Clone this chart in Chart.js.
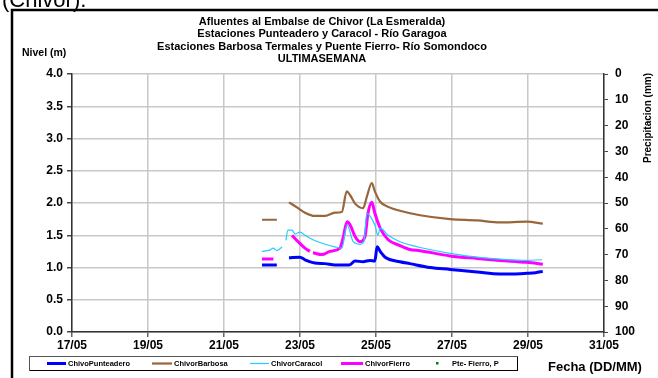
<!DOCTYPE html>
<html>
<head>
<meta charset="utf-8">
<script src="https://cdn.jsdelivr.net/npm/chart.js@4.4.1/dist/chart.umd.min.js"></script>
<style>
  body { margin: 0; background: #fff; }
  canvas { display: block; }
</style>
</head>
<body>
<canvas id="chivorChart" width="658" height="378"></canvas>
<script>
// Day of May (fractional) for every reading, null value = gap in the record
const puntDays = [22.0, 22.39, 22.5, 22.71, 23.0, 23.13, 23.39, 23.66, 23.92, 24.3, 24.45, 24.66, 24.84, 24.97, 25.03, 25.11, 25.24, 25.63, 25.89, 26.42, 26.95, 27.66, 28.26, 28.6, 28.97, 29.2, 29.39];
const puntVals = [1.04, 1.04, null, 1.15, 1.16, 1.12, 1.07, 1.06, 1.04, 1.04, 1.10, 1.09, 1.11, 1.10, 1.32, 1.25, 1.16, 1.09, 1.06, 1.00, 0.97, 0.93, 0.90, 0.90, 0.91, 0.92, 0.94];

const barbDays = [22.0, 22.39, 22.5, 22.71, 22.95, 23.13, 23.39, 23.66, 23.92, 24.1, 24.23, 24.32, 24.45, 24.66, 24.76, 24.89, 24.97, 25.11, 25.32, 25.63, 26.16, 26.95, 27.66, 28.26, 28.97, 29.39];
const barbVals = [1.74, 1.74, null, 2.01, 1.92, 1.85, 1.80, 1.80, 1.85, 1.86, 2.18, 2.12, 1.99, 1.92, 2.10, 2.31, 2.18, 2.02, 1.94, 1.88, 1.81, 1.75, 1.73, 1.70, 1.71, 1.68];

const caraDays = [22.0, 22.2, 22.3, 22.39, 22.45, 22.53, 22.58, 22.63, 22.68, 22.79, 22.87, 23.0, 23.13, 23.34, 23.66, 23.92, 24.1, 24.24, 24.4, 24.58, 24.68, 24.76, 24.84, 24.97, 25.05, 25.11, 25.32, 25.63, 25.89, 26.16, 26.95, 27.66, 28.26, 28.97, 29.37];
const caraVals = [1.25, 1.27, 1.30, 1.26, 1.28, 1.32, null, 1.42, 1.58, 1.58, 1.52, 1.55, 1.50, 1.43, 1.36, 1.32, 1.30, 1.66, 1.40, 1.36, 1.40, 1.84, 1.80, 1.66, 1.50, 1.61, 1.50, 1.40, 1.35, 1.31, 1.22, 1.16, 1.13, 1.11, 1.12];

const fierDays = [22.0, 22.3, 22.5, 22.79, 22.95, 23.13, 23.26, 23.29, 23.34, 23.58, 23.79, 24.05, 24.13, 24.24, 24.32, 24.45, 24.58, 24.71, 24.79, 24.89, 24.97, 25.11, 25.32, 25.63, 25.89, 26.16, 26.95, 27.66, 28.26, 28.97, 29.39];
const fierVals = [1.13, 1.13, null, 1.50, 1.40, 1.30, 1.25, null, 1.23, 1.20, 1.25, 1.30, 1.45, 1.71, 1.66, 1.48, 1.40, 1.48, 1.84, 2.01, 1.84, 1.61, 1.43, 1.34, 1.28, 1.26, 1.18, 1.14, 1.11, 1.08, 1.05];

// precipitation (Pte- Fierro, P): no readings visible this week
const precipDays = [];
const precipVals = [];

const titleLines = [
    'Afluentes al Embalse de Chivor (La Esmeralda)',
    'Estaciones Punteadero y Caracol - Río Garagoa',
    'Estaciones Barbosa Termales y Puente Fierro- Río Somondoco',
    'ULTIMASEMANA'
];

const pairs = (days, vals) => days.map((d, i) => ({ x: d, y: vals[i] }));

const FONT = '"Liberation Sans", Arial, sans-serif';

const makeLine = (label, days, vals, color, width) => ({
    label: label,
    data: pairs(days, vals),
    borderColor: color,
    backgroundColor: color,
    borderWidth: width,
    pointRadius: 0,
    tension: 0.25,
    cubicInterpolationMode: 'monotone',
    spanGaps: false,
    yAxisID: 'y'
});

// frame, titles and the boxed legend, drawn the way the Excel sheet shows them
const decorations = {
    id: 'decorations',
    afterDraw(chart) {
        const c = chart.ctx;
        c.save();
        // clipped caption from the sheet above
        c.fillStyle = '#000';
        c.font = '22px ' + FONT;
        c.textAlign = 'left';
        c.textBaseline = 'alphabetic';
        c.fillText('(Chivor).', 2, 7);
        // outer frame
        c.strokeStyle = '#000';
        c.lineWidth = 2.5;
        c.beginPath();
        c.moveTo(12, 378);
        c.lineTo(12, 10);
        c.lineTo(658, 10);
        c.stroke();

        // title block
        c.font = 'bold 11px ' + FONT;
        c.textAlign = 'center';
        c.textBaseline = 'middle';
        titleLines.forEach((t, i) => c.fillText(t, 322, 22 + i * 12.3));

        // axis titles
        c.font = 'bold 10.5px ' + FONT;
        c.textAlign = 'left';
        c.fillText('Nivel (m)', 22, 53);
        c.font = 'bold 13px ' + FONT;
        c.fillText('Fecha (DD/MM)', 548, 367);
        c.save();
        c.translate(648, 118);
        c.rotate(-Math.PI / 2);
        c.textAlign = 'center';
        c.font = 'bold 10px ' + FONT;
        c.fillText('Precipitacion (mm)', 0, 0);
        c.restore();

        // legend box
        c.strokeStyle = '#555';
        c.lineWidth = 1;
        c.strokeRect(29.5, 356.5, 488, 14);
        c.fillStyle = '#000';
        c.fillRect(30, 370, 488, 1);
        c.fillRect(517, 357, 1, 14);
        const items = [
            { x: 47, len: 19, label: chart.data.datasets[0].label, ds: chart.data.datasets[0] },
            { x: 152, len: 20, label: chart.data.datasets[1].label, ds: chart.data.datasets[1] },
            { x: 250, len: 19, label: chart.data.datasets[2].label, ds: chart.data.datasets[2] },
            { x: 341, len: 22, label: chart.data.datasets[3].label, ds: chart.data.datasets[3] }
        ];
        c.font = 'bold 7.5px ' + FONT;
        c.textBaseline = 'middle';
        c.textAlign = 'left';
        items.forEach(it => {
            c.strokeStyle = it.ds.borderColor;
            c.lineWidth = it.ds.borderWidth;
            c.beginPath();
            c.moveTo(it.x, 363.5);
            c.lineTo(it.x + it.len, 363.5);
            c.stroke();
            c.fillStyle = '#000';
            c.fillText(it.label, it.x + it.len + 2, 364);
        });
        const p = chart.data.datasets[4];
        c.fillStyle = p.backgroundColor;
        c.fillRect(436, 362, 2.5, 2.5);
        c.fillStyle = '#000';
        c.fillText(p.label, 452, 364);
        c.restore();
    }
};

new Chart(document.getElementById('chivorChart').getContext('2d'), {
    type: 'line',
    data: {
        datasets: [
            makeLine('ChivoPunteadero', puntDays, puntVals, '#0000ff', 3),
            makeLine('ChivorBarbosa', barbDays, barbVals, '#99663a', 2.2),
            makeLine('ChivorCaracol', caraDays, caraVals, '#22ccff', 1.2),
            makeLine('ChivorFierro', fierDays, fierVals, '#ff00ff', 3),
            {
                label: 'Pte- Fierro, P',
                data: pairs(precipDays, precipVals),
                type: 'scatter',
                backgroundColor: '#008000',
                borderColor: '#008000',
                pointRadius: 1.5,
                pointStyle: 'rect',
                yAxisID: 'y2'
            }
        ]
    },
    options: {
        responsive: false,
        animation: false,
        layout: { padding: { top: 74, left: 0, right: 0, bottom: 0 } },
        plugins: {
            legend: { display: false },
            title: { display: false },
            tooltip: { enabled: false }
        },
        scales: {
            x: {
                type: 'linear',
                min: 17,
                max: 31,
                afterFit: s => { s.height = 46; },
                ticks: {
                    stepSize: 2,
                    padding: 1,
                    color: '#000',
                    font: { family: FONT, size: 12, weight: 'bold' },
                    callback: v => String(v).padStart(2, '0') + '/05'
                },
                grid: { color: '#c8c8c8', lineWidth: 1.5, tickLength: 5, tickColor: '#666' },
                border: { color: '#333', width: 1.5 }
            },
            y: {
                position: 'left',
                min: 0,
                max: 4,
                afterFit: s => { s.width = 72; },
                ticks: {
                    stepSize: 0.25,
                    padding: 4,
                    color: '#000',
                    font: { family: FONT, size: 12, weight: 'bold' },
                    callback: v => (Math.abs(v * 2 - Math.round(v * 2)) < 1e-6 ? v.toFixed(1) : '')
                },
                grid: {
                    color: '#c8c8c8',
                    lineWidth: 1.5,
                    tickLength: 5,
                    tickColor: ctx => (Math.abs(ctx.tick.value * 2 - Math.round(ctx.tick.value * 2)) < 1e-6 ? '#444' : 'rgba(0,0,0,0)')
                },
                border: { color: '#333', width: 1.5 }
            },
            y2: {
                position: 'right',
                min: 0,
                max: 100,
                reverse: true,
                afterFit: s => { s.width = 54; },
                ticks: {
                    stepSize: 10,
                    padding: 7,
                    color: '#000',
                    font: { family: FONT, size: 12, weight: 'bold' }
                },
                grid: { drawOnChartArea: false, tickLength: 4, tickColor: '#444' },
                border: { color: '#333', width: 1.5 }
            }
        }
    },
    plugins: [decorations]
});
</script>
</body>
</html>
